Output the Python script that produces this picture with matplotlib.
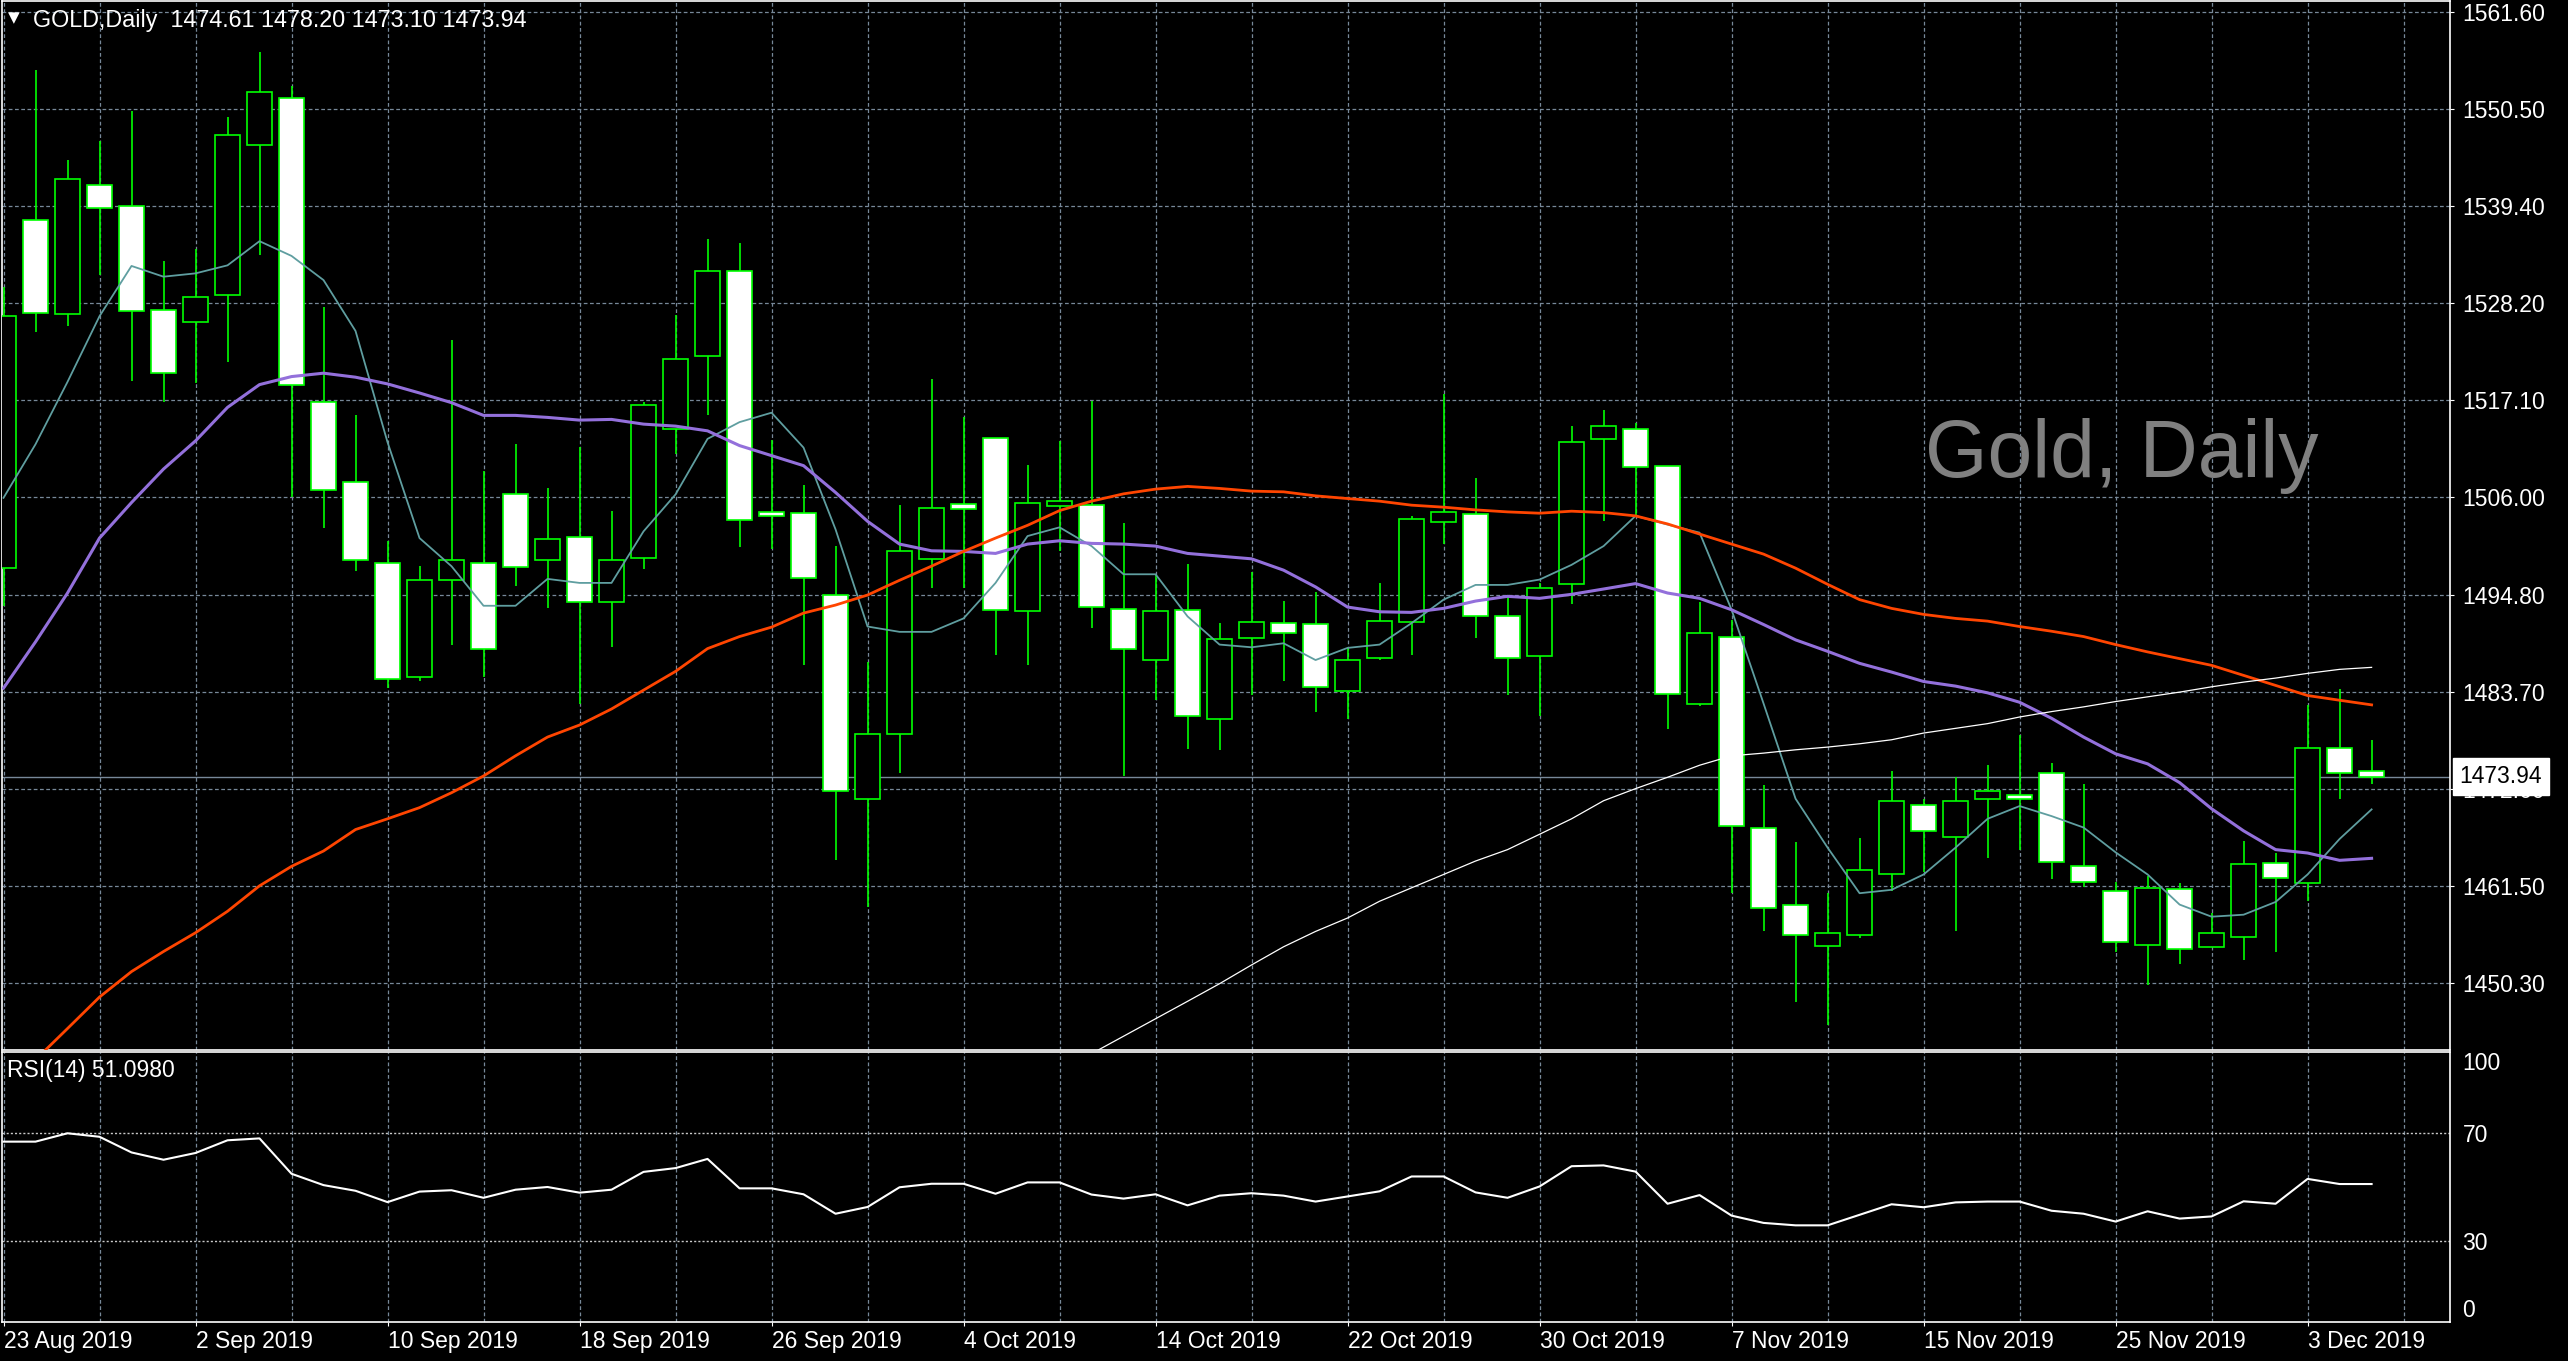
import numpy as np
import matplotlib
matplotlib.use("Agg")
import matplotlib.pyplot as plt

plt.rcParams["font.family"] = ["Liberation Sans", "DejaVu Sans"]

# daily OHLC, 23 Aug 2019 .. 5 Dec 2019
opens = [1497.85, 1537.71, 1527.03, 1541.78, 1539.40, 1527.49, 1526.11, 1529.18, 1546.31, 1551.69,
         1516.89, 1507.68, 1498.46, 1485.40, 1496.54, 1498.46, 1506.37, 1498.84, 1501.38, 1494.00,
         1499.00, 1513.82, 1522.12, 1531.87, 1504.30, 1504.14, 1494.77, 1471.42, 1478.87, 1498.92,
         1505.22, 1512.75, 1492.93, 1504.99, 1505.14, 1493.16, 1487.32, 1493.08, 1480.56, 1489.86,
         1491.55, 1491.47, 1483.79, 1487.55, 1491.70, 1503.15, 1504.07, 1492.31, 1487.78, 1496.00,
         1512.67, 1513.82, 1509.60, 1482.33, 1490.01, 1468.04, 1459.21, 1454.52, 1455.75, 1462.82,
         1470.65, 1467.04, 1471.35, 1471.88, 1474.42, 1463.67, 1460.82, 1454.60, 1461.05, 1454.45,
         1455.60, 1464.05, 1461.74, 1477.26, 1474.61]
highs = [1530.10, 1554.91, 1544.62, 1546.85, 1550.23, 1533.02, 1534.41, 1549.62, 1556.99, 1553.15,
         1527.80, 1515.36, 1500.92, 1498.08, 1524.04, 1508.98, 1512.05, 1506.99, 1511.75, 1504.45,
         1516.89, 1526.88, 1535.56, 1535.10, 1512.52, 1507.37, 1500.38, 1487.09, 1505.14, 1519.51,
         1515.20, 1512.75, 1509.67, 1512.44, 1517.05, 1503.07, 1497.08, 1498.38, 1491.55, 1497.46,
         1494.08, 1495.08, 1488.78, 1496.16, 1503.84, 1517.82, 1508.14, 1494.62, 1496.16, 1514.13,
         1515.97, 1514.44, 1509.60, 1494.00, 1491.93, 1472.96, 1466.43, 1460.59, 1466.97, 1474.65,
         1471.42, 1473.88, 1475.26, 1478.72, 1475.57, 1473.11, 1461.90, 1462.59, 1461.74, 1458.29,
         1466.58, 1465.20, 1482.18, 1484.02, 1478.20]
lows = [1493.47, 1524.96, 1525.57, 1531.49, 1519.35, 1516.89, 1519.04, 1521.43, 1533.79, 1505.99,
        1502.45, 1497.54, 1484.10, 1484.86, 1489.09, 1485.40, 1495.77, 1493.31, 1482.33, 1488.86,
        1497.77, 1510.90, 1515.44, 1500.30, 1500.00, 1486.78, 1464.43, 1458.98, 1474.42, 1495.62,
        1495.62, 1487.94, 1486.78, 1499.77, 1491.01, 1474.03, 1482.71, 1477.11, 1476.95, 1483.33,
        1484.86, 1481.41, 1480.56, 1487.32, 1487.94, 1500.61, 1489.86, 1483.33, 1480.95, 1493.70,
        1503.22, 1503.84, 1479.41, 1482.00, 1460.59, 1456.21, 1448.15, 1445.46, 1455.50, 1460.82,
        1463.00, 1456.21, 1464.66, 1465.59, 1462.21, 1461.36, 1453.83, 1450.07, 1452.45, 1454.40,
        1452.91, 1453.91, 1459.67, 1471.35, 1473.10]
closes = [1526.73, 1527.11, 1542.40, 1539.17, 1527.34, 1520.27, 1528.95, 1547.46, 1552.38, 1518.89,
          1506.83, 1498.84, 1485.17, 1496.54, 1498.77, 1488.63, 1498.00, 1501.15, 1494.00, 1498.77,
          1516.59, 1521.81, 1531.95, 1503.38, 1503.84, 1496.77, 1472.34, 1478.80, 1499.77, 1504.76,
          1504.61, 1493.08, 1505.37, 1505.53, 1493.39, 1488.63, 1492.93, 1480.95, 1489.78, 1491.70,
          1490.40, 1484.25, 1487.32, 1491.78, 1503.53, 1504.30, 1492.31, 1487.55, 1495.54, 1512.36,
          1514.13, 1509.44, 1483.41, 1490.40, 1468.35, 1458.90, 1455.75, 1456.06, 1463.28, 1471.11,
          1467.74, 1471.11, 1472.34, 1471.42, 1464.20, 1461.90, 1454.98, 1461.21, 1454.22, 1455.98,
          1463.90, 1462.28, 1477.18, 1474.42, 1473.94]

# moving averages as drawn on the chart
ma_fast = [1505.91, 1512.05, 1519.20, 1526.73, 1532.49, 1531.26, 1531.64, 1532.56, 1535.33, 1533.64,
           1530.87, 1525.04, 1512.29, 1501.30, 1498.07, 1493.54, 1493.54, 1496.62, 1496.16, 1496.16,
           1502.07, 1506.30, 1512.67, 1514.59, 1515.67, 1511.67, 1502.30, 1491.16, 1490.55, 1490.55,
           1492.09, 1496.16, 1501.53, 1502.53, 1500.38, 1497.15, 1497.15, 1492.32, 1489.09, 1488.78,
           1489.24, 1487.32, 1488.71, 1489.09, 1491.55, 1494.24, 1495.93, 1495.93, 1496.54, 1498.23,
           1500.38, 1503.84, 1502.84, 1501.92, 1493.08, 1482.33, 1471.42, 1465.82, 1460.59, 1460.98,
           1462.74, 1465.82, 1469.12, 1470.58, 1469.43, 1468.12, 1465.28, 1462.74, 1459.29, 1457.90,
           1458.13, 1459.59, 1462.74, 1466.81, 1470.20]
ma_mid = [1484.10, 1489.40, 1495.00, 1501.30, 1505.37, 1509.21, 1512.44, 1516.28, 1518.89, 1519.81,
          1520.20, 1519.74, 1518.97, 1517.93, 1516.82, 1515.36, 1515.36, 1515.13, 1514.82, 1514.90,
          1514.36, 1514.13, 1513.59, 1511.90, 1510.75, 1509.60, 1506.53, 1503.22, 1500.61, 1499.84,
          1499.77, 1499.54, 1500.61, 1500.99, 1500.69, 1500.61, 1500.38, 1499.54, 1499.23, 1498.92,
          1497.62, 1495.70, 1493.39, 1492.85, 1492.78, 1493.24, 1494.08, 1494.62, 1494.39, 1494.85,
          1495.46, 1496.08, 1495.00, 1494.39, 1493.08, 1491.39, 1489.63, 1488.32, 1486.94, 1485.94,
          1484.86, 1484.33, 1483.56, 1482.48, 1480.64, 1478.49, 1476.57, 1475.42, 1473.27, 1470.27,
          1467.74, 1465.59, 1465.20, 1464.36, 1464.59]
ma_slow = [1437.80, 1441.50, 1445.08, 1448.69, 1451.61, 1453.91, 1456.06, 1458.52, 1461.44, 1463.67,
           1465.43, 1467.89, 1469.12, 1470.40, 1472.11, 1474.03, 1476.34, 1478.49, 1479.87, 1481.71,
           1483.87, 1486.02, 1488.63, 1490.01, 1491.09, 1492.70, 1493.62, 1494.77, 1496.46, 1498.08,
           1499.77, 1501.30, 1502.76, 1504.45, 1505.53, 1506.37, 1506.91, 1507.22, 1506.99, 1506.68,
           1506.60, 1506.14, 1505.83, 1505.53, 1505.07, 1504.84, 1504.53, 1504.30, 1504.15, 1504.38,
           1504.22, 1503.84, 1502.92, 1501.76, 1500.61, 1499.46, 1497.85, 1496.00, 1494.24, 1493.24,
           1492.55, 1492.09, 1491.78, 1491.16, 1490.62, 1490.01, 1489.09, 1488.25, 1487.48, 1486.71,
           1485.56, 1484.41, 1483.25, 1482.71, 1482.18]
ma_long_start = 33
ma_long = [1440.20, 1442.20, 1444.20, 1446.20, 1448.20, 1450.22, 1452.37, 1454.45, 1456.21, 1457.75,
           1459.67, 1461.21, 1462.74, 1464.28, 1465.59, 1467.35, 1469.12, 1471.19, 1472.58, 1473.88,
           1475.26, 1476.34, 1476.65, 1477.03, 1477.34, 1477.72, 1478.18, 1478.95, 1479.49, 1480.03,
           1480.79, 1481.41, 1481.95, 1482.56, 1483.10, 1483.64, 1484.25, 1484.79, 1485.25, 1485.79,
           1486.25, 1486.48]

rsi = [66.8, 66.8, 69.9, 68.6, 62.8, 60.1, 62.6, 67.3, 68.0, 54.9,
       50.7, 48.6, 44.4, 48.3, 48.8, 46.0, 49.0, 50.0, 47.9, 49.0,
       55.6, 57.0, 60.4, 49.5, 49.5, 47.3, 40.1, 42.6, 49.9, 51.2,
       51.2, 47.5, 51.7, 51.7, 47.2, 45.7, 47.3, 43.2, 46.8, 47.7,
       46.8, 44.6, 46.5, 48.4, 53.9, 53.9, 48.0, 46.0, 50.2, 57.7,
       58.0, 55.7, 43.8, 47.0, 39.4, 36.7, 35.8, 35.8, 39.7, 43.6,
       42.5, 44.3, 44.6, 44.6, 41.2, 40.1, 37.2, 41.0, 38.3, 39.1,
       44.7, 43.8, 53.0, 51.1, 51.098]

date_labels = ["23 Aug 2019", "2 Sep 2019", "10 Sep 2019", "18 Sep 2019", "26 Sep 2019",
               "4 Oct 2019", "14 Oct 2019", "22 Oct 2019", "30 Oct 2019", "7 Nov 2019",
               "15 Nov 2019", "25 Nov 2019", "3 Dec 2019"]
price_labels = ["1561.60", "1550.50", "1539.40", "1528.20", "1517.10", "1506.00",
                "1494.80", "1483.70", "1472.60", "1461.50", "1450.30"]
rsi_ticks = [100, 70, 30, 0]
last_price = 1473.94

GRID = "#778899"
LIME = "#00ff00"

W, H = 2568, 1361


def box(x0, y0, x1, y1):
    # pixel box (top-left origin) -> figure fraction
    return [x0 / W, 1 - y1 / H, (x1 - x0) / W, (y1 - y0) / H]


fig = plt.figure(figsize=(W / 100, H / 100), dpi=100, facecolor="black")
ax = fig.add_axes(box(2, 1, 2450, 1050))
ax2 = fig.add_axes(box(2, 1052, 2450, 1322), sharex=ax)

for a in (ax, ax2):
    a.set_facecolor("black")
    for s in a.spines.values():
        s.set_color("white")
        s.set_linewidth(1.2)

idx = np.arange(len(opens))
o = np.array(opens)
c = np.array(closes)

# candles: bull = black body, bear = white body, lime outline
ax.vlines(idx, lows, highs, color=LIME, lw=1.2, zorder=2.6)
faces = ["black" if cc >= oo else "white" for oo, cc in zip(o, c)]
ax.bar(idx, np.abs(c - o), bottom=np.minimum(o, c), width=0.76, color=faces,
       edgecolor=LIME, linewidth=1.2, zorder=3)

ax.plot(idx, ma_fast, color="#5f9ea0", lw=1.3, zorder=4)
ax.plot(idx, ma_mid, color="#9370db", lw=2.2, zorder=4)
ax.plot(idx, ma_slow, color="#ff4500", lw=2.0, zorder=4)
ax.plot(idx[ma_long_start:], ma_long, color="white", lw=0.9, zorder=4)

ax.axhline(last_price, color=GRID, lw=1.0, zorder=2)

# axes ranges
ax.set_xlim(-0.047, 76.45)
ax.set_ylim(1442.62, 1562.86)
ax2.set_ylim(0, 100)

price_ticks = np.linspace(1561.6, 1450.3, len(price_labels))
ax.yaxis.tick_right()
ax.set_yticks(price_ticks)
ax.set_yticklabels(price_labels)
ax.tick_params(axis="y", length=3, color="white", labelcolor="white", labelsize=16.5, pad=6)

major = np.arange(0, 6 * len(date_labels), 6)
minor = major + 3
ax2.set_xticks(major)
ax2.set_xticklabels(date_labels)
ax2.set_xticks(minor, minor=True)
ax.tick_params(axis="x", which="both", length=0, labelbottom=False)
ax2.tick_params(axis="x", which="major", length=3, color="white", labelcolor="white",
                labelsize=16.5, pad=3)
ax2.tick_params(axis="x", which="minor", length=0)
for lbl in ax2.get_xticklabels():
    lbl.set_ha("left")

ax.grid(True, which="both", axis="both", color=GRID, linestyle=(0, (3, 2)), lw=0.9)
ax.set_axisbelow(True)
ax2.grid(True, which="both", axis="x", color=GRID, linestyle=(0, (3, 2)), lw=0.9)
ax2.set_axisbelow(True)

# RSI panel
ax2.plot(idx, rsi, color="white", lw=1.5, zorder=4)
for lvl in (70, 30):
    ax2.axhline(lvl, color="#c8c8c8", lw=1.0, linestyle=(0, (1.5, 1.5)), zorder=2)
ax2.yaxis.tick_right()
ax2.set_yticks(rsi_ticks)
ax2.set_yticklabels([str(t) for t in rsi_ticks])
ax2.tick_params(axis="y", length=0, labelcolor="white", labelsize=16.5, pad=9)
rl = ax2.get_yticklabels()
rl[0].set_va("top")
rl[-1].set_va("bottom")
ax2.text(0.002, 0.93, "RSI(14) 51.0980", transform=ax2.transAxes, color="white",
         fontsize=16.5, ha="left", va="center")

# header and watermark
ax.text(0.0047, 0.984, "\u25bc", transform=ax.transAxes, color="white", fontsize=11,
        family="DejaVu Sans", ha="center", va="center", zorder=6)
ax.text(0.0127, 0.981, "GOLD,Daily  1474.61 1478.20 1473.10 1473.94", transform=ax.transAxes,
        color="white", fontsize=16.8, ha="left", va="center", zorder=6)
ax.text(0.7855, 0.5462, "Gold, Daily", transform=ax.transAxes, color="#808080",
        fontsize=58, ha="left", va="baseline", zorder=1)

# last price tag
ax.annotate(f"{last_price:.2f}", xy=(1, last_price), xycoords=("axes fraction", "data"),
            xytext=(7, 0), textcoords="offset points", ha="left", va="center",
            color="black", fontsize=16.5, annotation_clip=False, zorder=10,
            bbox=dict(boxstyle="square,pad=0.3", fc="white", ec="white"))

fig.savefig("out.png", dpi=100, facecolor="black")
